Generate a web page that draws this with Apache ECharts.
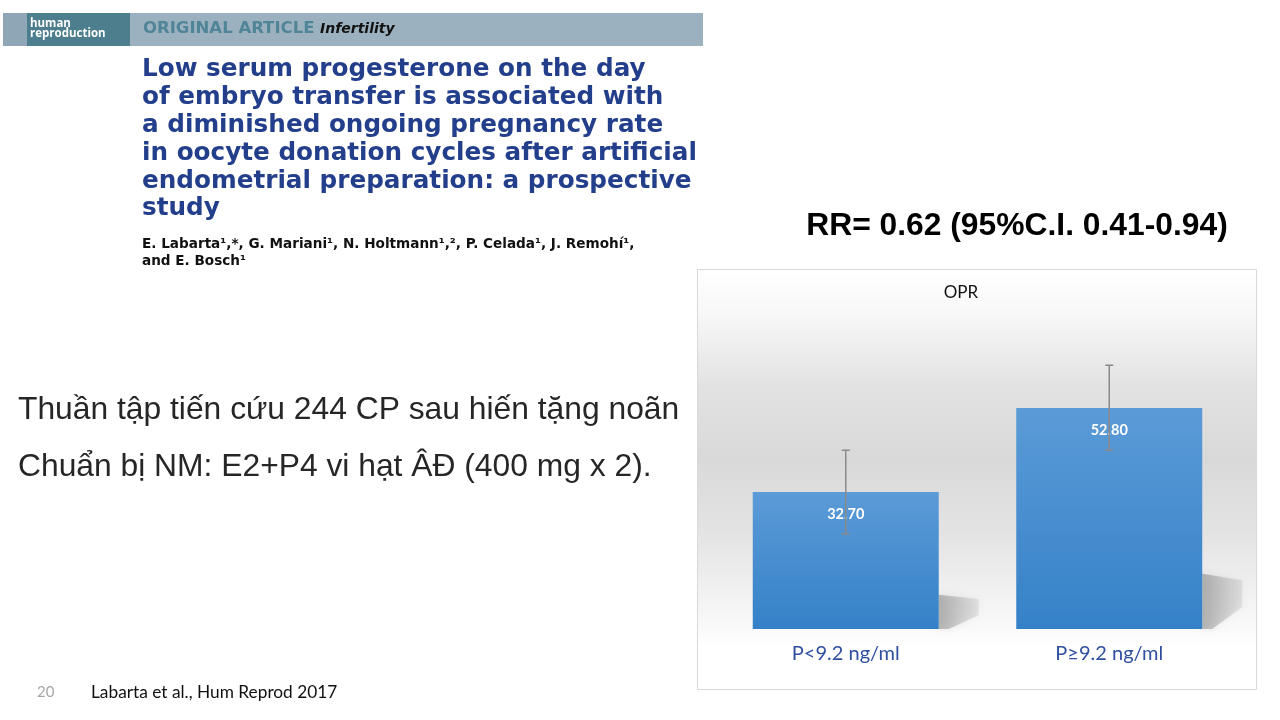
<!DOCTYPE html>
<html><head><meta charset="utf-8">
<script src="https://cdn.jsdelivr.net/npm/echarts@6/dist/echarts.min.js"></script>
<style>html,body{margin:0;padding:0;background:#fff}#c{width:1280px;height:720px}</style>
</head><body><div id="c"></div>
<script>
// ---- data ----
const categories = ['P<9.2 ng/ml', 'P≥9.2 ng/ml'];
const opr = [32.7, 52.8];
const ciLow = [22.7, 42.7];
const ciHigh = [42.7, 63.0];
const chartTitle = 'OPR';
const rrText = 'RR= 0.62 (95%C.I. 0.41-0.94)';
const articleTitle = [
  'Low serum progesterone on the day',
  'of embryo transfer is associated with',
  'a diminished ongoing pregnancy rate',
  'in oocyte donation cycles after artificial',
  'endometrial preparation: a prospective',
  'study'
];
const authors = [
  'E. Labarta¹,*, G. Mariani¹, N. Holtmann¹,², P. Celada¹, J. Remohí¹,',
  'and E. Bosch¹'
];
const bullets = [
  'Thuần tập tiến cứu 244 CP sau hiến tặng noãn',
  'Chuẩn bị NM: E2+P4 vi hạt ÂĐ (400 mg x 2).'
];
const footerNum = '20';
const footerRef = 'Labarta et al., Hum Reprod 2017';

const chart = echarts.init(document.getElementById('c'), null, {renderer: 'canvas'});

const graphics = [];
// header banner
graphics.push({type:'rect', shape:{x:3,y:13,width:700,height:33}, style:{fill:'#9cb1bf'}, z:1});
graphics.push({type:'rect', shape:{x:3,y:13,width:24,height:33}, style:{fill:'#8ea6b6'}, z:1});
graphics.push({type:'rect', shape:{x:27,y:13,width:103,height:33}, style:{fill:'#4c7e8e'}, z:1});
graphics.push({type:'text', x:30, y:18, style:{text:'human\nreproduction', fill:'#fff', font:'bold 11.5px "Open Sans"', lineHeight:10.5}, z:2});
graphics.push({type:'text', x:143, y:29, style:{text:'ORIGINAL ARTICLE', fill:'#4f8597', font:'bold 16.5px "DejaVu Sans"', verticalAlign:'middle'}, z:2});
graphics.push({type:'text', x:320, y:29, style:{text:'Infertility', fill:'#111', font:'italic bold 14px "DejaVu Sans"', verticalAlign:'middle'}, z:2});
// article title
articleTitle.forEach((t,i)=>{
  graphics.push({type:'text', x:142, y:70+i*27.8, style:{text:t, fill:'#233f8c', font:'bold 24.7px "DejaVu Sans"', verticalAlign:'middle'}, z:2});
});
authors.forEach((t,i)=>{
  graphics.push({type:'text', x:142, y:244+i*17, style:{text:t, fill:'#111', font:'bold 13.6px "DejaVu Sans"', verticalAlign:'middle'}, z:2});
});
// left bullets
bullets.forEach((t,i)=>{
  graphics.push({type:'text', x:18, y:410+i*57, style:{text:t, fill:'#262626', font:'31.8px "Liberation Sans"', verticalAlign:'middle'}, z:2});
});
// footer
graphics.push({type:'text', x:37, y:692, style:{text:footerNum, fill:'#a6a6a6', font:'15px Lato', verticalAlign:'middle'}, z:2});
graphics.push({type:'text', x:91, y:692, style:{text:footerRef, fill:'#111', font:'17.3px Lato', verticalAlign:'middle'}, z:2});
// RR text
graphics.push({type:'text', x:1017, y:226, style:{text:rrText, fill:'#000', font:'bold 31.8px "Liberation Sans"', align:'center', verticalAlign:'middle'}, z:2});
// chart box background
graphics.push({type:'rect', shape:{x:697.5,y:269.5,width:559,height:420},
  style:{fill:new echarts.graphic.LinearGradient(0,0,0,1,[
    {offset:0,color:'#ffffff'},{offset:0.1,color:'#f8f8f8'},{offset:0.28,color:'#e2e2e2'},
    {offset:0.45,color:'#d9d9d9'},{offset:0.62,color:'#e3e3e3'},{offset:0.8,color:'#f4f4f4'},
    {offset:0.9,color:'#ffffff'},{offset:1,color:'#ffffff'}]), stroke:'#d9d9d9', lineWidth:1}, z:0});
// chart title
graphics.push({type:'text', x:961, y:293, style:{text:chartTitle, fill:'#111', font:'17px Lato', align:'center', verticalAlign:'middle'}, z:2});

chart.setOption({
  animation:false,
  backgroundColor:'transparent',
  graphic:graphics,
  grid:{left:714, width:527, top:315, height:314},
  xAxis:{type:'category', data:categories, axisLine:{show:false}, axisTick:{show:false},
    axisLabel:{color:'#2f4f9f', fontFamily:'Lato', fontSize:20, margin:15}},
  yAxis:{type:'value', min:0, max:75, show:false, splitLine:{show:false}},
  series:[
    {type:'custom', z:1, data:opr.map((v,i)=>[i,v]),
      renderItem:function(params, api){
        const i=api.value(0), v=api.value(1);
        const base=api.coord([i,0]); const top=api.coord([i,v]);
        const bw=api.size([1,0])[0]*0.706;
        const r=base[0]+bw/2; const h=base[1]-top[1];
        const y0=base[1];
        return {type:'polygon', shape:{points:[[r,y0-h*0.25],[r+40,y0-h*0.22],[r+40,y0-h*0.1],[r+10,y0],[r,y0]]},
          style:{fill:new echarts.graphic.LinearGradient(0,0,1,0,[{offset:0,color:'rgba(120,120,120,0.5)'},{offset:1,color:'rgba(160,160,160,0.2)'}]),
            shadowBlur:8, shadowColor:'rgba(130,130,130,0.4)'}};
      }},
    {type:'bar', z:2, data:opr, barWidth:186,
      itemStyle:{color:new echarts.graphic.LinearGradient(0,0,0,1,[{offset:0,color:'#5b9bd7'},{offset:1,color:'#3581c8'}])},
      label:{show:true, position:'insideTop', distance:15, formatter:p=>p.value.toFixed(2),
        color:'#fff', fontFamily:'Lato', fontWeight:'bold', fontSize:14.5}},
    {type:'custom', z:3, data:categories.map((c,i)=>[i,ciLow[i],ciHigh[i]]),
      renderItem:function(params, api){
        const i=api.value(0);
        const lo=api.coord([i,api.value(1)]); const hi=api.coord([i,api.value(2)]);
        const st={stroke:'#8a8a8a', lineWidth:1.5};
        return {type:'group', children:[
          {type:'line', shape:{x1:hi[0],y1:hi[1],x2:lo[0],y2:lo[1]}, style:st},
          {type:'line', shape:{x1:hi[0]-4,y1:hi[1],x2:hi[0]+4,y2:hi[1]}, style:st},
          {type:'line', shape:{x1:lo[0]-4,y1:lo[1],x2:lo[0]+4,y2:lo[1]}, style:st}
        ]};
      }}
  ]
});
</script></body></html>
